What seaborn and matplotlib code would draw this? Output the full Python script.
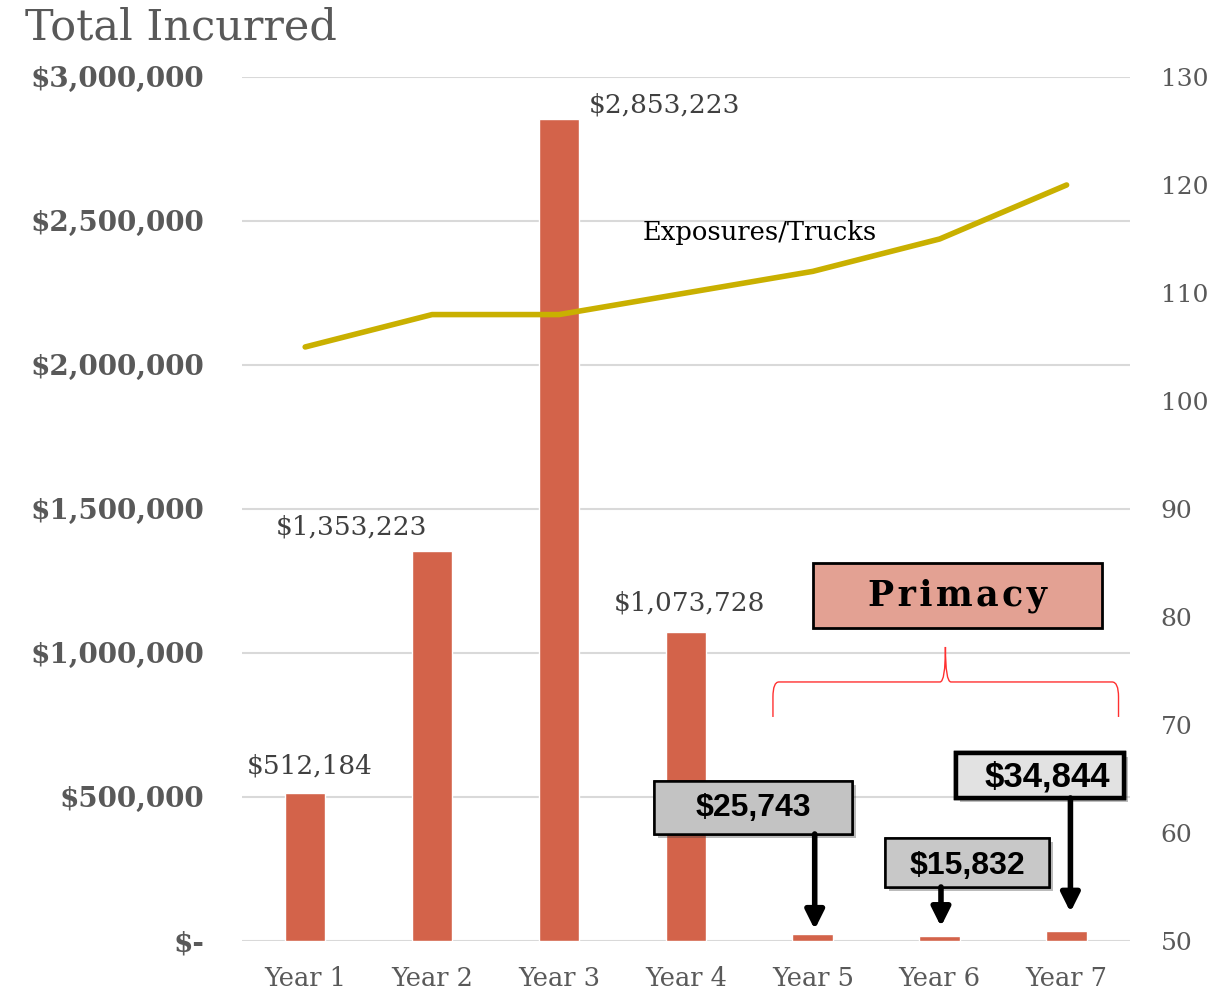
import numpy as np
import pandas as pd
import matplotlib
matplotlib.use("Agg")
import matplotlib.pyplot as plt
import matplotlib.patheffects as pe
from matplotlib.patches import Rectangle, PathPatch
from matplotlib.path import Path
import seaborn as sns

# data
years = ["Year 1", "Year 2", "Year 3", "Year 4", "Year 5", "Year 6", "Year 7"]
incurred = [512184, 1353223, 2853223, 1073728, 25743, 15832, 34844]
trucks = [105, 108, 108, 110, 112, 115, 120]
left_ticks = [0, 500000, 1000000, 1500000, 2000000, 2500000, 3000000]
left_labels = ["$-", "$500,000", "$1,000,000", "$1,500,000",
               "$2,000,000", "$2,500,000", "$3,000,000"]
right_ticks = [50, 60, 70, 80, 90, 100, 110, 120, 130]

bar_color = "#D3634A"
line_color = "#C9B000"
grey = "#595959"
serif = ["DejaVu Serif"]
narrow = ["Liberation Sans", "DejaVu Sans"]

sns.set_theme(style="white")
plt.rcParams["font.family"] = serif

df = pd.DataFrame({"Year": years, "Incurred": incurred, "Trucks": trucks})

fig = plt.figure(figsize=(12.27, 9.97), dpi=100)
ax = fig.add_axes([0.197, 0.0562, 0.724, 0.8666])

sns.barplot(data=df, x="Year", y="Incurred", color=bar_color, width=0.32,
            saturation=1, ax=ax, zorder=2)
ax.set_xlim(-0.5, 6.5)
ax.set_ylim(0, 3000000)
ax.set_yticks(left_ticks)
ax.set_yticklabels(left_labels, fontsize=20, fontweight="bold", color=grey)
ax.set_xticks(range(len(years)))
ax.set_xticklabels(years, fontsize=18.5, color=grey)
ax.tick_params(axis="y", length=0, pad=27)
ax.tick_params(axis="x", length=0, pad=18)
ax.grid(axis="y", color="#d9d9d9", lw=1.5, zorder=0)
ax.set_axisbelow(True)
ax.set_xlabel("")
ax.set_ylabel("")
for s in ax.spines.values():
    s.set_visible(False)

ax2 = ax.twinx()
sns.lineplot(x=np.arange(len(years)), y=trucks, color=line_color, lw=4, ax=ax2)
ax2.set_ylim(50, 130)
ax2.set_yticks(right_ticks)
ax2.set_yticklabels([str(t) for t in right_ticks], fontsize=18, color=grey)
ax2.tick_params(axis="y", length=0, pad=22)
ax2.grid(False)
for s in ax2.spines.values():
    s.set_visible(False)

# value labels of the big bars
lab = dict(ha="center", va="center", fontsize=19, color="#404040")
ax.text(0.036, 607000, "$512,184", **lab)
ax.text(0.367, 1437500, "$1,353,223", **lab)
ax.text(2.834, 2902778, "$2,853,223", **lab)
ax.text(3.031, 1173611, "$1,073,728", **lab)
ax.text(3.583, 2458333, "Exposures/Trucks", ha="center", va="center",
        fontsize=18.5, color="black")

# Primacy box
shadow = [pe.withSimplePatchShadow(offset=(3, -3), alpha=0.35), pe.Normal()]
prim = Rectangle((4.001, 1086806), 2.278, 225694, facecolor="#E3A193",
                 edgecolor="black", lw=2, zorder=5)
ax.add_patch(prim)
ax.text(5.14, 1199000, "\u200a".join("Primacy"), ha="center", va="center",
        fontsize=25, fontweight="bold", color="black", zorder=6)

# red brace
verts = [(3.686, 777778), (3.686, 847222),
         (3.686, 899306), (3.733, 899306),
         (5.002, 899306),
         (5.045, 899306), (5.045, 1020833),
         (5.045, 899306), (5.089, 899306),
         (6.358, 899306),
         (6.409, 899306), (6.409, 847222),
         (6.409, 777778)]
codes = [Path.MOVETO, Path.LINETO,
         Path.CURVE3, Path.CURVE3,
         Path.LINETO,
         Path.CURVE3, Path.CURVE3,
         Path.CURVE3, Path.CURVE3,
         Path.LINETO,
         Path.CURVE3, Path.CURVE3,
         Path.LINETO]
ax.add_patch(PathPatch(Path(verts, codes), fill=False, edgecolor="#ff3030",
                       lw=1, zorder=5))

# callout boxes for small bars
callouts = [
    # (x0, y0, w, h, face, lw, text, size, tx, ty, ax_x, a_from, a_to)
    (2.748, 371528, 1.560, 184028, "#C3C3C3", 1.8, "$25,743", 23, 3.528, 460000, 4.015, 371528, 40000),
    (4.569, 187500, 1.292, 170139, "#C8C8C8", 1.8, "$15,832", 23, 5.215, 262000, 5.010, 187500, 50000),
    (5.128, 496528, 1.324, 156250, "#E2E2E2", 3.2, "$34,844", 25, 5.850, 570000, 6.030, 496528, 100000),
]
for x0, y0, w, h, face, lw, txt, size, tx, ty, axx, a0, a1 in callouts:
    r = Rectangle((x0, y0), w, h, facecolor=face, edgecolor="black", lw=lw, zorder=5)
    r.set_path_effects(shadow)
    ax.add_patch(r)
    ax.text(tx, ty, txt, ha="center", va="center", fontsize=size,
            fontweight="bold", family=narrow, color="black", zorder=6)
    ax.annotate("", xy=(axx, a1), xytext=(axx, a0),
                arrowprops=dict(arrowstyle="-|>", lw=4, color="black",
                                mutation_scale=28, shrinkA=0, shrinkB=0),
                zorder=6)

fig.text(0.0204, 0.972, "Total Incurred", fontsize=31, color=grey,
         ha="left", va="center")

fig.savefig("out.png", dpi=100)
